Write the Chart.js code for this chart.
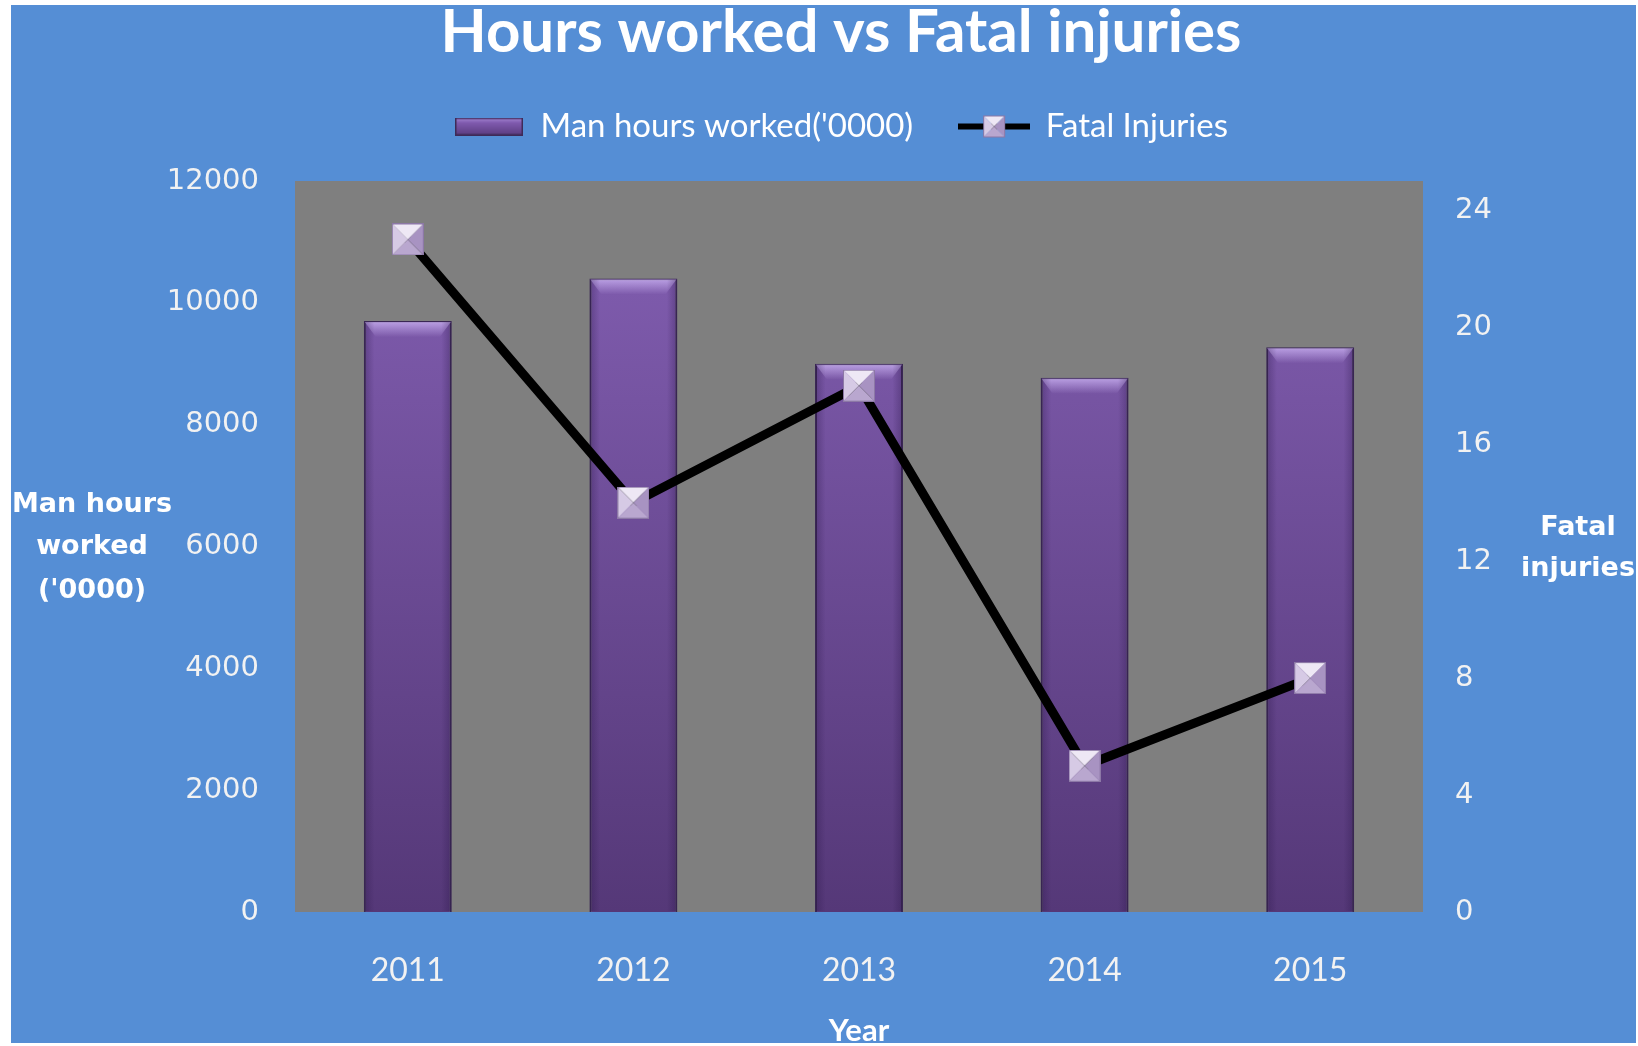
<!DOCTYPE html>
<html>
<head>
<meta charset="utf-8">
<script src="https://cdn.jsdelivr.net/npm/chart.js@4"></script>
<style>
  html, body { margin: 0; padding: 0; background: #fff; }
</style>
</head>
<body>
<canvas id="myChart" width="1638" height="1046"></canvas>
<script>
var years = ['2011', '2012', '2013', '2014', '2015'];
var manHours = [9700, 10400, 9000, 8770, 9270];
var fatalInjuries = [23, 14, 18, 5, 8];
var hourTicks = [0, 2000, 4000, 6000, 8000, 10000, 12000];
var injuryTicks = [0, 4, 8, 12, 16, 20, 24];

var BLUE = '#558ED5';
var GREY = '#7F7F7F';

// little square marker with the pyramid look
function makeMarker(size) {
  var c = document.createElement('canvas');
  c.width = c.height = size;
  var g = c.getContext('2d');
  var m = size / 2;
  function tri(pts, col) {
    g.beginPath();
    g.moveTo(pts[0][0], pts[0][1]);
    g.lineTo(pts[1][0], pts[1][1]);
    g.lineTo(m, m);
    g.closePath();
    g.fillStyle = col;
    g.fill();
  }
  tri([[0, 0], [size, 0]], '#EEE8F5');
  tri([[0, 0], [0, size]], '#D6CAE5');
  tri([[size, 0], [size, size]], '#A893C2');
  tri([[0, size], [size, size]], '#B9A7CF');
  g.strokeStyle = '#8C78A6';
  g.lineWidth = 1;
  g.strokeRect(0.5, 0.5, size - 1, size - 1);
  return c;
}

function makeBarIcon() {
  var c = document.createElement('canvas');
  c.width = 68; c.height = 18;
  var g = c.getContext('2d');
  var gr = g.createLinearGradient(0, 0, 0, 18);
  gr.addColorStop(0, '#A889D6');
  gr.addColorStop(0.3, '#7F5AAE');
  gr.addColorStop(1, '#5A3B7E');
  g.fillStyle = gr;
  g.fillRect(0, 0, 68, 18);
  g.strokeStyle = '#3E2A58';
  g.lineWidth = 1.5;
  g.strokeRect(0.75, 0.75, 66.5, 16.5);
  return c;
}

function makeLineIcon() {
  var c = document.createElement('canvas');
  c.width = 72; c.height = 26;
  var g = c.getContext('2d');
  g.fillStyle = '#000';
  g.fillRect(0, 10, 72, 6);
  g.drawImage(makeMarker(22), 25, 2);
  return c;
}

var marker = makeMarker(32);
var legendIcons = [makeBarIcon(), makeLineIcon()];

var backdrop = {
  id: 'backdrop',
  beforeDraw: function(chart) {
    var ctx = chart.ctx, a = chart.chartArea;
    ctx.save();
    ctx.fillStyle = '#fff';
    ctx.fillRect(0, 0, chart.width, chart.height);
    ctx.fillStyle = BLUE;
    ctx.fillRect(11, 5, 1625, 1038);
    ctx.fillStyle = GREY;
    ctx.fillRect(a.left, a.top, a.right - a.left, a.bottom - a.top);
    ctx.restore();
  },
  afterDatasetDraw: function(chart, args) {
    if (args.index !== 0) return;
    var ctx = chart.ctx;
    ctx.save();
    args.meta.data.forEach(function(bar) {
      var w = bar.width, l = bar.x - w / 2, t = bar.y, b = bar.base;
      // top bevel
      var gt = ctx.createLinearGradient(0, t, 0, t + 16);
      gt.addColorStop(0, 'rgba(200,175,240,0.85)');
      gt.addColorStop(1, 'rgba(200,175,240,0)');
      ctx.fillStyle = gt;
      ctx.beginPath();
      ctx.moveTo(l + 1, t + 1);
      ctx.lineTo(l + w - 1, t + 1);
      ctx.lineTo(l + w - 12, t + 16);
      ctx.lineTo(l + 12, t + 16);
      ctx.closePath();
      ctx.fill();
      // side shading
      var gs = ctx.createLinearGradient(l, 0, l + w, 0);
      gs.addColorStop(0, 'rgba(40,20,70,0.35)');
      gs.addColorStop(0.12, 'rgba(40,20,70,0)');
      gs.addColorStop(0.88, 'rgba(40,20,70,0)');
      gs.addColorStop(1, 'rgba(40,20,70,0.35)');
      ctx.fillStyle = gs;
      ctx.fillRect(l + 1, t + 1, w - 2, b - t - 2);
    });
    ctx.restore();
  },
  afterDraw: function(chart) {
    var ctx = chart.ctx;
    ctx.save();
    ctx.fillStyle = '#fff';
    ctx.textAlign = 'center';
    ctx.textBaseline = 'middle';
    ctx.font = 'bold 27px "DejaVu Sans"';
    ctx.fillText('Man hours', 92, 505);
    ctx.fillText('worked', 92, 547);
    ctx.fillText("('0000)", 92, 591);
    ctx.fillText('Fatal', 1578, 528);
    ctx.fillText('injuries', 1578, 569);
    ctx.fillStyle = '#fff';
    ctx.fillRect(0, 1043, chart.width, 3);
    ctx.restore();
  }
};

Chart.defaults.color = '#F2F2F2';

var myChart = new Chart(document.getElementById('myChart'), {
  type: 'bar',
  data: {
    labels: years,
    datasets: [
      {
        type: 'bar',
        label: "Man hours worked('0000)",
        data: manHours,
        yAxisID: 'y',
        order: 1,
        backgroundColor: function(ctx) {
          var a = ctx.chart.chartArea;
          if (!a) return '#6E4B98';
          var gr = ctx.chart.ctx.createLinearGradient(0, a.top, 0, a.bottom);
          gr.addColorStop(0, '#8460B4');
          gr.addColorStop(1, '#553878');
          return gr;
        },
        borderColor: '#3A2754',
        borderWidth: 2,
        categoryPercentage: 1,
        barPercentage: 0.39
      },
      {
        type: 'line',
        label: 'Fatal Injuries',
        data: fatalInjuries,
        yAxisID: 'y1',
        order: 0,
        borderColor: '#000',
        borderWidth: 9,
        tension: 0,
        pointStyle: marker,
        pointRadius: 16,
        pointHoverRadius: 16
      }
    ]
  },
  plugins: [backdrop],
  options: {
    responsive: false,
    devicePixelRatio: 1,
    animation: false,
    layout: { padding: { left: 44, right: 0, top: 0, bottom: 0 } },
    plugins: {
      title: {
        display: true,
        text: 'Hours worked vs Fatal injuries',
        color: '#fff',
        font: { family: 'Lato', size: 60, weight: 'bold', lineHeight: 1 },
        padding: { top: 3, bottom: 1 }
      },
      subtitle: {
        display: true,
        text: '',
        weight: 500,
        font: { size: 1, lineHeight: 1 },
        padding: { top: 0, bottom: 27 }
      },
      legend: {
        labels: {
          color: '#fff',
          font: { family: 'Lato', size: 33 },
          padding: 46,
          usePointStyle: true,
          pointStyleWidth: 70,
          generateLabels: function(chart) {
            var items = Chart.defaults.plugins.legend.labels.generateLabels(chart);
            items.sort(function(p, q) { return p.datasetIndex - q.datasetIndex; });
            items.forEach(function(it) {
              it.pointStyle = legendIcons[it.datasetIndex];
              it.fontColor = '#fff';
            });
            return items;
          }
        }
      },
      tooltip: { enabled: false }
    },
    scales: {
      x: {
        offset: true,
        grid: { display: false, drawTicks: false },
        border: { display: false },
        ticks: { color: '#F2F2F2', font: { family: 'Lato', size: 32 }, padding: 39 },
        title: {
          display: true,
          text: 'Year',
          color: '#fff',
          font: { family: 'Lato', size: 31, weight: 'bold', lineHeight: 1 },
          padding: 0
        },
        afterFit: function(s) { s.height = 134; }
      },
      y: {
        position: 'left',
        min: 0,
        max: 12000,
        grid: { display: false, drawTicks: false },
        border: { display: false },
        ticks: {
          color: '#F2F2F2',
          font: { family: 'DejaVu Sans', size: 29 },
          padding: 36,
          callback: function(v) { return String(v); }
        },
        afterBuildTicks: function(s) { s.ticks = hourTicks.map(function(v) { return { value: v }; }); },
        afterFit: function(s) { s.width = 251; }
      },
      y1: {
        position: 'right',
        min: 0,
        max: 25,
        grid: { display: false, drawTicks: false },
        border: { display: false },
        ticks: {
          color: '#F2F2F2',
          font: { family: 'DejaVu Sans', size: 29 },
          padding: 32,
          callback: function(v) { return String(v); }
        },
        afterBuildTicks: function(s) { s.ticks = injuryTicks.map(function(v) { return { value: v }; }); },
        afterFit: function(s) { s.width = 215; }
      }
    }
  }
});
</script>
</body>
</html>
